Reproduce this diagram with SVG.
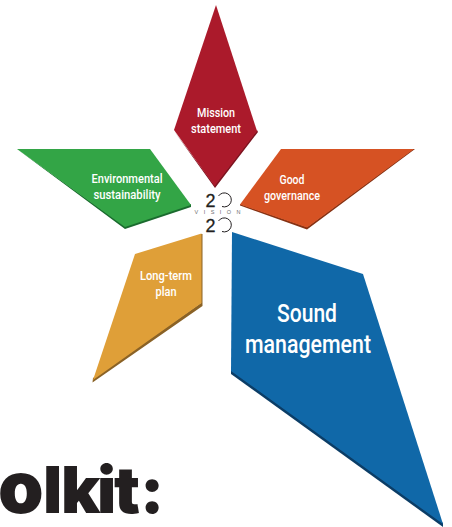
<svg xmlns="http://www.w3.org/2000/svg" width="452" height="527" viewBox="0 0 452 527">
<style>
text{font-family:Roboto,"Noto Sans","DejaVu Sans",sans-serif;fill:#fff;text-anchor:middle}
.s{font-size:13px;font-weight:500}
.l{font-size:26.500px;font-weight:500}
.two{font-family:"Liberation Sans",Arial,sans-serif;font-weight:400;font-size:19px;fill:#231f20;stroke:#231f20;stroke-width:.3}
.v{font-family:"Liberation Sans",Arial,sans-serif;font-size:5.500px;fill:#6d6e71}
.arc{fill:none;stroke:#231f20;stroke-width:1}
</style>
<rect width="452" height="527" fill="#fff"/>
<g id="mission">
<polygon points="174,131 215,188 258,132 257,130 214.500,185" fill="#7d1420"/>
<polygon points="216,5 174,130 214.500,186 257,131" fill="#ab1a2b"/>
<text class="s" x="216" y="117" textLength="38" lengthAdjust="spacingAndGlyphs">Mission</text>
<text class="s" x="216" y="133" textLength="50" lengthAdjust="spacingAndGlyphs">statement</text>
</g>
<g id="environmental">
<polygon points="17,149 125,229 191,207 191,204 125,226" fill="#1a6b2e"/>
<polygon points="17,149 150,149 191,205 125,227" fill="#33a546"/>
<text class="s" x="127" y="183" textLength="71" lengthAdjust="spacingAndGlyphs">Environmental</text>
<text class="s" x="127" y="199" textLength="67" lengthAdjust="spacingAndGlyphs">sustainability</text>
</g>
<g id="governance">
<polygon points="240,204 240,205.500 307,229.500 415,149 413,149 307,227" fill="#853214"/>
<polygon points="281,149 414,149 307,227.500 240,204.500" fill="#d65223"/>
<text class="s" x="292" y="184" textLength="25" lengthAdjust="spacingAndGlyphs">Good</text>
<text class="s" x="292" y="200" textLength="56" lengthAdjust="spacingAndGlyphs">governance</text>
</g>
<g id="longterm">
<polygon points="92.500,382.500 202.500,306 202.500,234 201,234 201,303 93,378" fill="#8a6226"/>
<polygon points="135,254 201.500,233.500 201.500,303 93,380" fill="#df9f38"/>
<text class="s" x="166" y="280" textLength="52" lengthAdjust="spacingAndGlyphs">Long-term</text>
<text class="s" x="166" y="296" textLength="21" lengthAdjust="spacingAndGlyphs">plan</text>
</g>
<g id="sound">
<polygon points="231,370 231,374 443,527 443,523" fill="#0b3d66"/>
<polygon points="232,232 363,274 443,524 231,371" fill="#1068a8"/>
<text class="l" x="307" y="322" textLength="60" lengthAdjust="spacingAndGlyphs">Sound</text>
<text class="l" x="308" y="353" textLength="126" lengthAdjust="spacingAndGlyphs">management</text>
</g>
<g id="logo">
<text class="two" x="210.500" y="206.500" textLength="10" lengthAdjust="spacingAndGlyphs">2</text>
<path class="arc" d="M218.500,196 A7,7 0 1 1 222,206.500"/>
<text class="v" x="217.500" y="214" textLength="46">VISION</text>
<text class="two" x="210.500" y="231.500" textLength="10" lengthAdjust="spacingAndGlyphs">2</text>
<path class="arc" d="M218.500,221 A7,7 0 1 1 222,231.500"/>
</g>
<text y="513" style="font-family:Inter,'Liberation Sans',sans-serif;font-weight:900;font-size:65px;fill:#231f20;text-anchor:start"><tspan x="-2" style="font-size:73px">o</tspan><tspan x="43 61 97 114 140">lkit:</tspan></text>
</svg>
